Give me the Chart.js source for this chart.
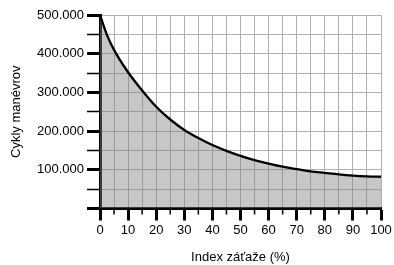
<!DOCTYPE html>
<html>
<head>
<meta charset="utf-8">
<script src="https://cdn.jsdelivr.net/npm/chart.js@4"></script>
<style>
  html, body { margin: 0; padding: 0; background: #fff; }
  #wrap { width: 394px; height: 265px; }
</style>
</head>
<body>
<div id="wrap"><canvas id="cyclesChart" width="394" height="265"></canvas></div>
<script>
// Load index (%) and cycle counts
const loadIndex = [0, 2.5, 5, 10, 15, 20, 25, 30, 35, 40, 45, 50, 55, 60, 65, 70, 75, 80, 85, 90, 95, 100];
const cycles = [500000, 448000, 410000, 352000, 305000, 263000, 230000, 203000, 182000, 164000, 149000,
                136000, 125000, 116000, 108000, 102000, 96000, 92000, 88000, 85000, 83000, 82000];

const xTitle = 'Index záťaže (%)';
const yTitle = 'Cykly manévrov';

// 100000 -> "100.000"
function formatThousands(v) {
    return String(v).replace(/\B(?=(\d{3})+(?!\d))/g, '.');
}

// short minor ticks on the x axis (every 5 %)
const minorTicks = {
    id: 'minorTicks',
    afterDraw(chart) {
        const x = chart.scales.x;
        const ctx = chart.ctx;
        const top = chart.chartArea.bottom + 1.5;
        ctx.save();
        ctx.strokeStyle = '#000';
        ctx.lineWidth = 1.5;
        x.ticks.forEach(t => {
            if (t.value % 10 === 0) return;
            const px = x.getPixelForValue(t.value);
            ctx.beginPath();
            ctx.moveTo(px, top);
            ctx.lineTo(px, top + 4.5);
            ctx.stroke();
        });
        ctx.restore();
    }
};

const font = { family: '"Liberation Sans", Arial, sans-serif', size: 13 };

new Chart(document.getElementById('cyclesChart'), {
    type: 'line',
    data: {
        datasets: [{
            data: loadIndex.map((v, i) => ({ x: v, y: cycles[i] })),
            borderColor: '#000',
            borderWidth: 2.3,
            backgroundColor: 'rgba(130, 130, 130, 0.45)',
            fill: 'origin',
            pointRadius: 0,
            cubicInterpolationMode: 'monotone'
        }]
    },
    plugins: [minorTicks],
    options: {
        responsive: false,
        animation: false,
        layout: { padding: { top: 15, right: 13, left: 0, bottom: 0 } },
        plugins: {
            legend: { display: false },
            tooltip: { enabled: false }
        },
        scales: {
            x: {
                type: 'linear',
                min: 0,
                max: 100,
                afterFit: s => { s.height = 56.5; },
                border: { display: true, color: '#000', width: 3 },
                grid: {
                    color: '#b0b0b0',
                    lineWidth: 1,
                    tickLength: 12,
                    tickWidth: 3,
                    tickColor: c => (c.tick && c.tick.value % 10 === 0) ? '#000' : 'rgba(0,0,0,0)'
                },
                ticks: {
                    stepSize: 5,
                    autoSkip: false,
                    maxRotation: 0,
                    padding: 2,
                    color: '#000',
                    font: font,
                    callback: v => v % 10 === 0 ? String(v) : ''
                },
                title: {
                    display: true,
                    text: xTitle,
                    color: '#000',
                    font: font,
                    padding: { top: 0, bottom: 0 }
                }
            },
            y: {
                min: 0,
                max: 500000,
                afterFit: s => { s.width = 100; },
                border: { display: true, color: '#000', width: 3 },
                grid: {
                    color: '#b0b0b0',
                    lineWidth: 1,
                    tickLength: 13,
                    tickColor: '#000',
                    tickWidth: c => (c.tick && c.tick.value % 100000 === 0) ? 3 : 1.5
                },
                ticks: {
                    stepSize: 50000,
                    autoSkip: false,
                    padding: 3,
                    color: '#000',
                    font: font,
                    callback: v => (v > 0 && v % 100000 === 0) ? formatThousands(v) : ''
                },
                title: {
                    display: true,
                    text: yTitle,
                    color: '#000',
                    font: font,
                    padding: { top: 9, bottom: 0 }
                }
            }
        }
    }
});
</script>
</body>
</html>
